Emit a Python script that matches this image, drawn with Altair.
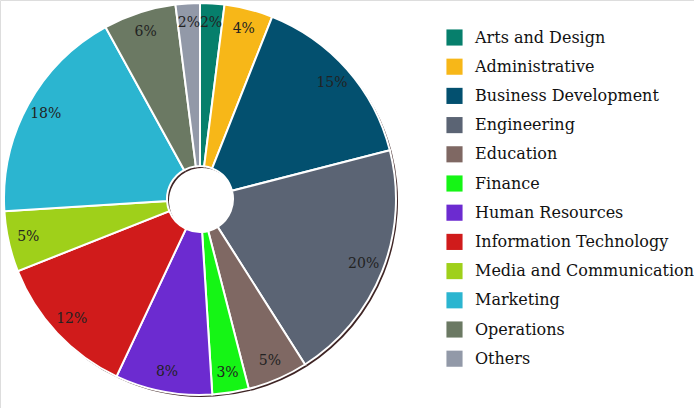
import altair as alt
import pandas as pd

categories = ["Arts and Design", "Administrative", "Business Development", "Engineering",
              "Education", "Finance", "Human Resources", "Information Technology",
              "Media and Communication", "Marketing", "Operations", "Others"]
shares = [2, 4, 15, 20, 5, 3, 8, 12, 5, 18, 6, 2]
colors = ["#067f6c", "#f7b718", "#03506f", "#5b6474", "#7f6863", "#15f515",
          "#6c2bd0", "#d01b1b", "#9fd01a", "#2bb5d0", "#6b7963", "#9299a8"]

df = pd.DataFrame({"category": categories, "share": shares, "idx": list(range(len(categories)))})
df["label"] = df["share"].astype(str) + "%"

CX, CY = 200, 199
base = alt.Chart(df).encode(
    theta=alt.Theta("share:Q", stack=True),
    order=alt.Order("idx:Q", sort="ascending"),
)

shadow = base.mark_arc(outerRadius=196, innerRadius=33, color="#2a0d0d", opacity=0.9).encode(
    x=alt.value(CX + 2), y=alt.value(CY + 2)
)

arcs = base.mark_arc(outerRadius=196, innerRadius=33, stroke="white", strokeWidth=2).encode(
    x=alt.value(CX), y=alt.value(CY),
    color=alt.Color("category:N",
                    scale=alt.Scale(domain=categories, range=colors),
                    sort=categories,
                    legend=alt.Legend(title=None, orient="none", legendX=446, legendY=29,
                                      symbolType="square", symbolSize=260, symbolStrokeWidth=0,
                                      labelFont="DejaVu Serif", labelFontSize=16,
                                      labelColor="#111111", rowPadding=12.2, labelOffset=12,
                                      labelLimit=300)),
)

text = base.mark_text(radius=176, font="DejaVu Serif", fontSize=14, color="#222222").encode(
    x=alt.value(CX), y=alt.value(CY),
    text="label:N",
)

chart = alt.layer(shadow, arcs, text).properties(
    width=694, height=408, padding=0, autosize=alt.AutoSizeParams(type="none")
).configure_view(stroke=None).configure(background="white")

chart.save("out.html", embed_options={"renderer": "svg", "actions": False})
